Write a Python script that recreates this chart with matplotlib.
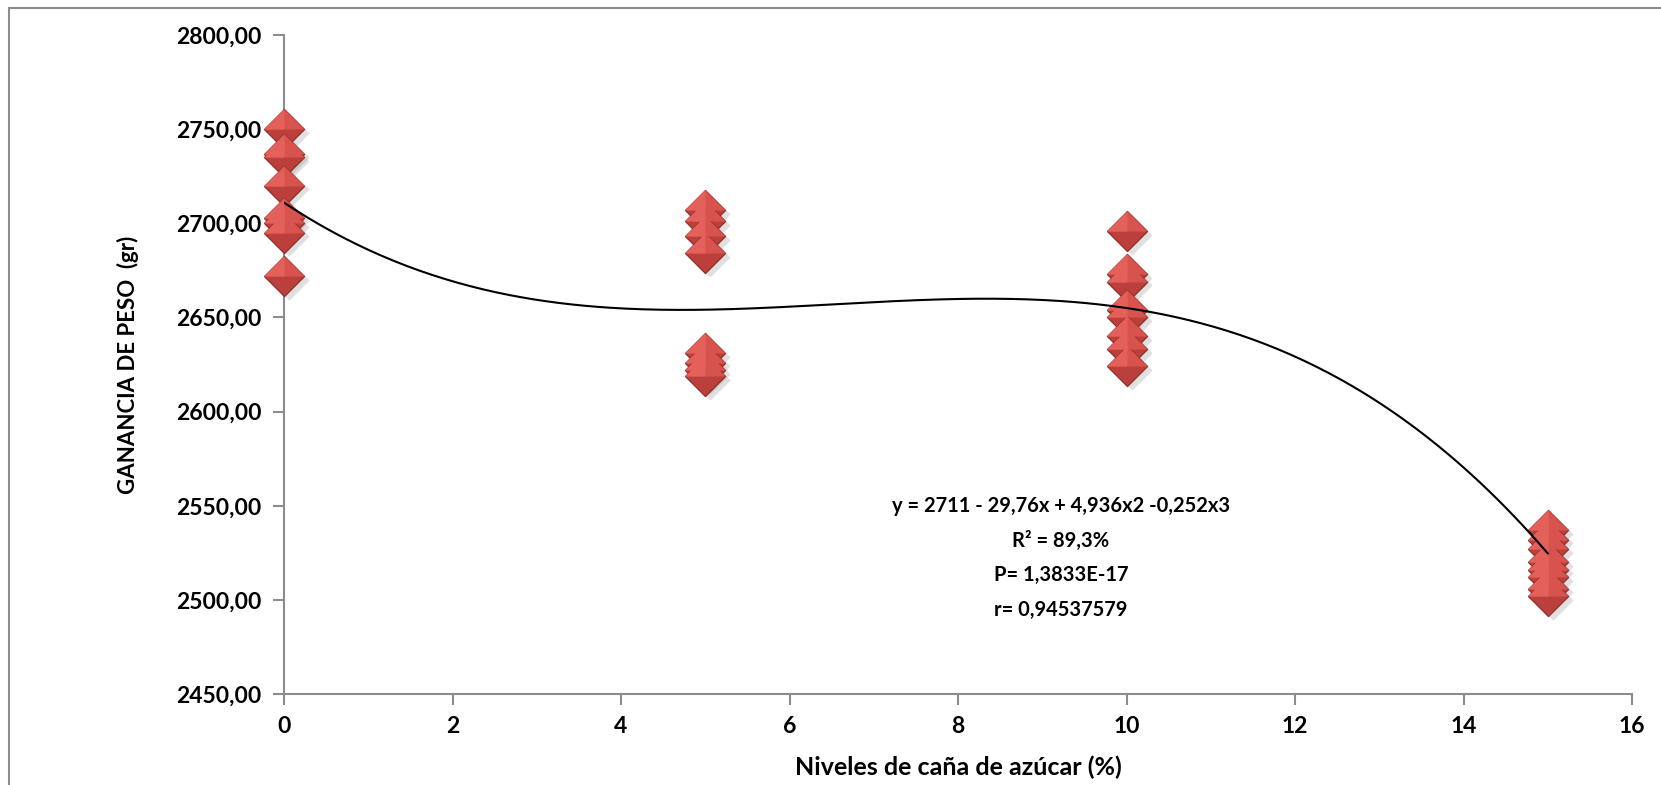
import matplotlib
matplotlib.use("Agg")
import matplotlib.pyplot as plt
import matplotlib.ticker as ticker
import numpy as np

plt.rcParams['font.family'] = ['Lato', 'DejaVu Sans']
plt.rcParams['font.weight'] = 'bold'

# niveles de caña (%) and ganancia de peso (gr)
niveles = [0, 0, 0, 0, 0, 0, 0, 0,
           5, 5, 5, 5, 5, 5, 5, 5,
           10, 10, 10, 10, 10, 10, 10, 10,
           15, 15, 15, 15, 15, 15, 15, 15]
ganancia = [2750, 2737, 2735, 2720, 2703, 2700, 2695, 2672,
            2707, 2701, 2693, 2684, 2631, 2626, 2622, 2619,
            2696, 2673, 2669, 2654, 2650, 2640, 2633, 2624,
            2537, 2532, 2527, 2520, 2516, 2512, 2506, 2502]

# polynomial trendline coefficients (c0, c1, c2, c3)
coefs = [2711, -29.76, 4.936, -0.252]
ann_lines = ["y = 2711 - 29,76x + 4,936x2 -0,252x3",
             "R\u00b2 = 89,3%",
             "P= 1,3833E-17",
             "r= 0,94537579"]

fig = plt.figure(figsize=(16.61, 7.85), dpi=100)
ax = fig.add_axes([284 / 1661, 1 - 694 / 785, 1348 / 1661, 659 / 785])

# figure border
fig.patches.append(plt.Rectangle((9 / 1661, -0.05), 1.1, 1 - 8 / 785 + 0.05,
                                 transform=fig.transFigure, fill=False,
                                 edgecolor='#8c8c8c', linewidth=1.5))

diamond = [(-1, 0), (0, 1), (1, 0), (0, -1), (-1, 0)]
upper = [(-1, 0), (0, 1), (1, 0), (0, 0), (-1, 0)]
upper_left = [(-1, 0), (0, 1), (0, 0), (-1, 0), (1, 0)]
ms = 29

# shadow, base, light facets
ax.plot(np.array(niveles) + 0.06, np.array(ganancia) - 2, linestyle='none', marker=diamond,
        markersize=ms, markerfacecolor='#9a9a9a', markeredgecolor='none', alpha=0.3,
        zorder=2, clip_on=False)
ax.plot(niveles, ganancia, linestyle='none', marker=diamond, markersize=ms,
        markerfacecolor='#bb3f3b', markeredgecolor='#8a2825', markeredgewidth=0.8,
        zorder=3, clip_on=False)
ax.plot(niveles, ganancia, linestyle='none', marker=upper, markersize=ms,
        markerfacecolor='#d9534e', markeredgecolor='none', zorder=4, clip_on=False)
ax.plot(niveles, ganancia, linestyle='none', marker=upper_left, markersize=ms,
        markerfacecolor='#e4605b', markeredgecolor='none', zorder=5, clip_on=False)

xs = np.linspace(0, 15, 300)
ys = coefs[0] + coefs[1] * xs + coefs[2] * xs ** 2 + coefs[3] * xs ** 3
ax.plot(xs, ys, color='black', linewidth=1.5, zorder=6)

ax.set_xlim(0, 16)
ax.set_ylim(2450, 2800)
ax.xaxis.set_major_locator(ticker.MultipleLocator(2))
ax.yaxis.set_major_locator(ticker.MultipleLocator(50))
ax.yaxis.set_major_formatter(ticker.FuncFormatter(lambda v, p: f"{v:.2f}".replace('.', ',')))

for s in ['top', 'right']:
    ax.spines[s].set_visible(False)
for s in ['left', 'bottom']:
    ax.spines[s].set_color('#8c8c8c')
    ax.spines[s].set_linewidth(1.5)
ax.tick_params(direction='out', length=8, width=1.5, color='#8c8c8c',
               labelsize=16.5, pad=8)
for lab in ax.get_xticklabels() + ax.get_yticklabels():
    lab.set_fontweight('bold')

ax.set_xlabel("Niveles de caña de azúcar (%)", fontsize=18, fontweight='bold', labelpad=13)
ax.set_ylabel("GANANCIA DE PESO  (gr)", fontsize=16, fontweight='bold', labelpad=27)

for i, line in enumerate(ann_lines):
    ax.text(9.22, 2550 - i * 18.5, line, ha='center', va='center',
            fontsize=14.5, fontweight='bold')

fig.savefig("out.png", dpi=100)
